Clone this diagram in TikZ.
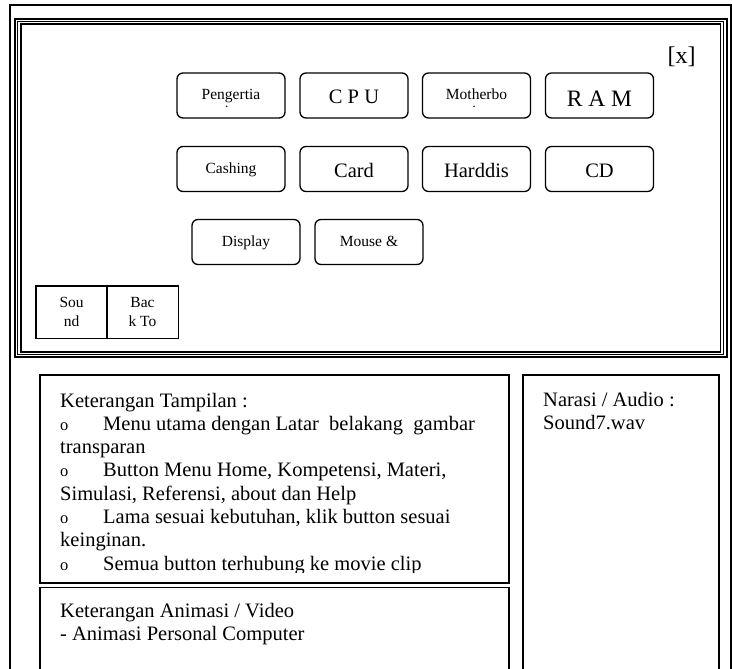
\documentclass[tikz,border=0pt]{standalone}
\usepackage{fontspec}
\setmainfont{Liberation Serif}
\usetikzlibrary{calc}
\begin{document}
\begin{tikzpicture}[x=1pt,y=-1pt,
  btn/.style={draw, line width=1.3pt, rounded corners=6pt,
    minimum width=108pt, minimum height=45pt, inner sep=0pt},
  bigbtn/.style={btn, font=\fontsize{20.5}{23}\selectfont,
    text height=31pt, text depth=14pt},
  smallbtn/.style={btn, font=\fontsize{15.5}{19}\selectfont,
    text height=27pt, text depth=18pt},
  cell/.style={draw, line width=1.2pt, minimum width=71.3pt,
    minimum height=52.3pt, inner sep=0pt, align=center,
    font=\fontsize{15.5}{19}\selectfont},
  panel/.style={draw, line width=1.4pt},
  body/.style={font=\fontsize{20.5}{23.3}\selectfont, anchor=base west, inner sep=0pt},
  bullet/.style={font=\fontsize{16.5}{20}\selectfont, anchor=base west, inner sep=0pt},
]
\useasboundingbox (0,0) rectangle (732,669);

% page frame (open at the bottom)
\draw[line width=1.4pt] (10,675) -- (10,5) -- (731,5) -- (731,675);

% screen frame: three nested lines
\draw[line width=2pt]   (15,19)   rectangle (726.7,357.3);
\draw[line width=1pt]   (17.9,21.7) rectangle (723.5,354.5);
\draw[line width=1.6pt] (20.7,24.3) rectangle (720.3,351.7);

% close mark
\node[font=\fontsize{24}{28}\selectfont, anchor=base, inner sep=0pt] (close) at (681.5,63.3) {[x]};

% menu buttons
\node[smallbtn] (peng)  at (231,95.5)   {Pengertia};
\node[bigbtn]   (cpu)   at (354,95.5)   {C P U};
\node[smallbtn] (moth)  at (476.5,95.5) {Motherbo};
\node[bigbtn, font=\fontsize{23.5}{26}\selectfont, text height=33.5pt, text depth=11.5pt]
                (ram)   at (599.5,95.5) {R A M};

\node[smallbtn] (cash)  at (231,169)   {Cashing};
\node[bigbtn]   (card)  at (354,169)   {Card};
\node[bigbtn]   (hdd)   at (476.5,169) {Harddis};
\node[bigbtn]   (cd)    at (599.5,169) {CD};

\node[smallbtn] (disp)  at (246,242) {Display};
\node[smallbtn] (mouse) at (369,242) {Mouse \&};

% clipped second lines of two labels
\fill (226.7,106.3) circle (0.8);
\fill (474,106.3) circle (0.8);

% sound / back buttons
\node[cell] (snd)  at (71.65,312.2)  {Sou\\nd};
\node[cell] (back) at (142.5,312.2) {Bac\\k To};

% description panel
\draw[panel] (40,375) rectangle (509,583);
\begin{scope}
  \clip (40,375) rectangle (509,572.5);
  \node[body] (kt) at (60,407) {Keterangan Tampilan :};
  \node[bullet] (b1) at (60,430.3) {o};
  \node[body] (l1) at (103,430.3) {Menu utama dengan Latar\ \ belakang\ \ gambar};
  \node[body] (l2) at (60,453.6) {transparan};
  \node[bullet] (b2) at (60,476.9) {o};
  \node[body] (l3) at (103,476.9) {Button Menu Home, Kompetensi, Materi,};
  \node[body] (l4) at (60,500.2) {Simulasi, Referensi, about dan Help};
  \node[bullet] (b3) at (60,523.5) {o};
  \node[body] (l5) at (103,523.5) {Lama sesuai kebutuhan, klik button sesuai};
  \node[body] (l6) at (60,546.8) {keinginan.};
  \node[bullet] (b4) at (60,570.1) {o};
  \node[body] (l7) at (103,570.1) {Semua button terhubung ke movie clip};
\end{scope}

% animation panel (open at the bottom)
\draw[panel] (40,675) -- (40,587.3) -- (509,587.3) -- (509,675);
\node[body] (ka) at (60,617) {Keterangan Animasi / Video};
\node[body] (ka2) at (60,640) {- Animasi Personal Computer};

% narration panel (open at the bottom)
\draw[panel] (523,675) -- (523,375) -- (719,375) -- (719,675);
\node[body] (na) at (543,406) {Narasi / Audio :};
\node[body] (na2) at (543,429.3) {Sound7.wav};

\end{tikzpicture}
\end{document}
